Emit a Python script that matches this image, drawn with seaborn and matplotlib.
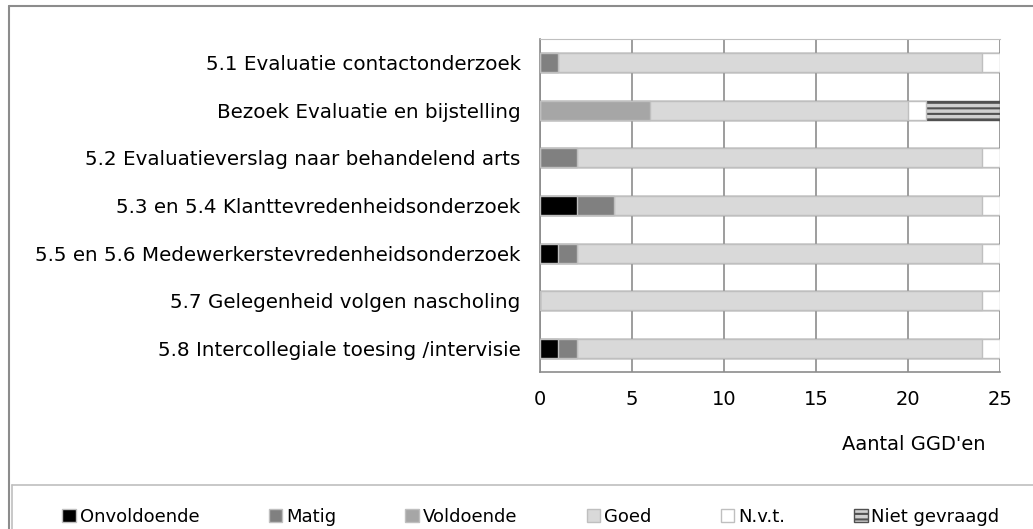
import matplotlib
matplotlib.use("Agg")
import matplotlib.pyplot as plt
import seaborn as sns
import pandas as pd
import numpy as np
from matplotlib.patches import Patch
from matplotlib.lines import Line2D

categories = [
    "5.1 Evaluatie contactonderzoek",
    "Bezoek Evaluatie en bijstelling",
    "5.2 Evaluatieverslag naar behandelend arts",
    "5.3 en 5.4 Klanttevredenheidsonderzoek",
    "5.5 en 5.6 Medewerkerstevredenheidsonderzoek",
    "5.7 Gelegenheid volgen nascholing",
    "5.8 Intercollegiale toesing /intervisie",
]
onvoldoende = [0, 0, 0, 2, 1, 0, 1]
matig = [1, 0, 2, 2, 1, 0, 1]
voldoende = [0, 6, 0, 0, 0, 0, 0]
goed = [23, 14, 22, 20, 22, 24, 22]
nvt = [1, 1, 1, 1, 1, 1, 1]
niet_gevraagd = [0, 4, 0, 0, 0, 0, 0]

series_names = ["Onvoldoende", "Matig", "Voldoende", "Goed", "N.v.t.", "Niet gevraagd"]
series = [onvoldoende, matig, voldoende, goed, nvt, niet_gevraagd]
colors = ["#000000", "#808080", "#a6a6a6", "#d9d9d9", "#ffffff", "#d0d0d0"]
edges = ["#bfbfbf"] * 5 + ["#505050"]
hatches = [None, None, None, None, None, "---"]

sns.set_style("white")
plt.rcParams["font.family"] = ["DejaVu Sans"]
plt.rcParams["text.color"] = "black"
plt.rcParams["hatch.linewidth"] = 1.5

fig = plt.figure(figsize=(10.33, 5.29), dpi=100)
ax = fig.add_axes([540 / 1033, 1 - 372 / 529, 460 / 1033, 333 / 529])

# cumulative totals, drawn from the largest down so segments stack
cum = np.cumsum(np.array(series), axis=0)
for i in range(len(series) - 1, -1, -1):
    df = pd.DataFrame({"cat": categories, "val": cum[i]})
    sns.barplot(data=df, x="val", y="cat", orient="h", color=colors[i],
                width=0.4, edgecolor=edges[i], linewidth=1.0,
                hatch=hatches[i], ax=ax, zorder=3)

ax.set_xlim(0, 25)
ax.set_ylim(len(categories) - 0.5, -0.5)
ax.set_xticks([0, 5, 10, 15, 20, 25])
ax.set_xlabel("")
ax.set_ylabel("")
ax.xaxis.grid(True, color="#8c8c8c", linewidth=1.2, zorder=0)
ax.set_axisbelow(True)

for s in ["left", "bottom"]:
    ax.spines[s].set_color("#8c8c8c")
    ax.spines[s].set_linewidth(1.2)
ax.spines["right"].set_visible(False)
ax.spines["top"].set_color("#bfbfbf")

ax.tick_params(axis="y", length=0, pad=14, labelsize=14.3, labelcolor="black")
ax.set_yticks(np.arange(-0.5, len(categories), 1), minor=True)
ax.tick_params(axis="y", which="minor", length=5, color="#8c8c8c", width=1.2)
ax.tick_params(axis="x", length=5, color="#8c8c8c", width=1.2, labelsize=14,
               pad=8, labelcolor="black")

fig.text(985 / 1033, 1 - 445 / 529, "Aantal GGD'en", ha="right", va="center",
         fontsize=14, color="black")

# outer chart border and legend box
fig.add_artist(Line2D([9 / 1033, 9 / 1033], [0, 1 - 6 / 529], color="#8c8c8c", lw=1.5))
fig.add_artist(Line2D([9 / 1033, 1], [1 - 6 / 529, 1 - 6 / 529], color="#8c8c8c", lw=1.5))
fig.add_artist(Line2D([12 / 1033, 12 / 1033], [0, 1 - 485 / 529], color="#bfbfbf", lw=1.2))
fig.add_artist(Line2D([12 / 1033, 1], [1 - 485 / 529, 1 - 485 / 529], color="#bfbfbf", lw=1.2))

handles = [Patch(facecolor=c, edgecolor=e, hatch=h, label=n)
           for c, e, h, n in zip(colors, edges, hatches, series_names)]
fig.legend(handles=handles, loc="center", bbox_to_anchor=(531 / 1033, 1 - 517 / 529),
           ncol=6, frameon=False, fontsize=13, handlelength=0.75, handleheight=0.75,
           handletextpad=0.2, columnspacing=3.85, labelcolor="black")

fig.savefig("out.png", dpi=100)
